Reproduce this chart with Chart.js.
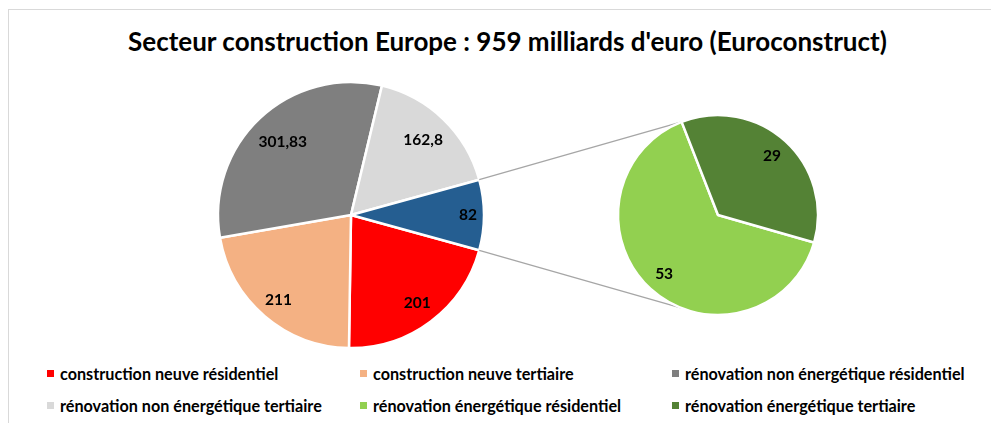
<!DOCTYPE html>
<html>
<head>
<meta charset="utf-8">
<script src="https://cdn.jsdelivr.net/npm/chart.js@4.4.1/dist/chart.umd.min.js"></script>
<style>
  html, body { margin:0; padding:0; background:#fff; }
  #wrap { position:relative; width:991px; height:423px; overflow:hidden; background:#fff; font-family: Lato, "Noto Sans", sans-serif; }
  #frame { position:absolute; left:8px; top:9px; width:1100px; height:600px; border:1px solid #d9d9d9; box-sizing:border-box; }
  #title { position:absolute; left:24px; top:26px; width:967px; text-align:center; font-weight:bold; font-size:26px; line-height:30px; color:#000; white-space:nowrap; }
  #c1 { position:absolute; left:211px; top:75px; }
  #c2 { position:absolute; left:460px; top:100px; }
  #legend { position:absolute; left:47px; top:362px; display:grid; grid-template-columns:313px 312px 310px; grid-auto-rows:32px; font-weight:bold; font-size:16.2px; color:#000; }
  .item { display:flex; align-items:center; white-space:nowrap; height:22px; }
  .sw { width:7px; height:7px; margin-right:6px; flex:none; }
</style>
</head>
<body>
<div id="wrap">
  <div id="frame"></div>
  <div id="title"></div>
  <canvas id="c1" width="280" height="280"></canvas>
  <canvas id="c2" width="370" height="230"></canvas>
  <div id="legend"></div>
</div>
<script>
// ---- data ----
const titleText = "Secteur construction Europe : 959 milliards d'euro (Euroconstruct)";
const mainLabels = ["construction neuve résidentiel", "construction neuve tertiaire", "rénovation non énergétique résidentiel", "rénovation non énergétique tertiaire"];
const mainValues = [201, 211, 301.83, 162.8];
const mainColors = ["#FF0000", "#F4B183", "#7F7F7F", "#D9D9D9"];
const secLabels = ["rénovation énergétique résidentiel", "rénovation énergétique tertiaire"];
const secValues = [53, 29];
const secColors = ["#92D050", "#548235"];
const otherColor = "#255E91";

// ---- derived ----
const otherValue = secValues.reduce((a, b) => a + b, 0);
const pieValues = mainValues.concat([otherValue]);
const pieColors = mainColors.concat([otherColor]);
const total = pieValues.reduce((a, b) => a + b, 0);
const mainRotation = 90 + (otherValue / total) * 180;  // "other" slice centred at 3 o'clock

document.getElementById('title').textContent = titleText;

const legendEl = document.getElementById('legend');
mainLabels.concat(secLabels).forEach((lab, i) => {
  const col = mainColors.concat(secColors)[i];
  const d = document.createElement('div');
  d.className = 'item';
  const s = document.createElement('span');
  s.className = 'sw'; s.style.background = col;
  const t = document.createElement('span');
  t.textContent = lab;
  d.appendChild(s); d.appendChild(t);
  legendEl.appendChild(d);
});

const fmt = v => String(v).replace('.', ',');

const labelPlugin = {
  id: 'sliceLabels',
  afterDatasetsDraw(chart, args, opts) {
    const ctx = chart.ctx;
    const meta = chart.getDatasetMeta(0);
    const vals = chart.data.datasets[0].data;
    ctx.save();
    ctx.font = 'bold 15.5px Lato, "Noto Sans", sans-serif';
    ctx.fillStyle = '#000';
    ctx.textAlign = 'center';
    ctx.textBaseline = 'middle';
    meta.data.forEach((arc, i) => {
      const mid = (arc.startAngle + arc.endAngle) / 2;
      const r = arc.outerRadius * opts.fractions[i];
      ctx.fillText(fmt(vals[i]), arc.x + Math.cos(mid) * r, arc.y + Math.sin(mid) * r);
    });
    ctx.restore();
  }
};

const c1 = document.getElementById('c1');
const c2 = document.getElementById('c2');

const chart1 = new Chart(c1, {
  type: 'pie',
  data: { labels: mainLabels.concat(['rénovation énergétique']), datasets: [{ data: pieValues, backgroundColor: pieColors, borderColor: '#fff', borderWidth: 2.5 }] },
  options: {
    responsive: false, animation: false, rotation: mainRotation, radius: 133,
    layout: { padding: 0 },
    events: [],
    plugins: { legend: { display: false }, tooltip: { enabled: false }, sliceLabels: { fractions: [0.83, 0.84, 0.75, 0.78, 0.88] } }
  },
  plugins: [labelPlugin]
});

const connectorPlugin = {
  id: 'connectors',
  beforeDatasetsDraw(chart) {
    const ctx = chart.ctx;
    const dx = c1.offsetLeft - c2.offsetLeft, dy = c1.offsetTop - c2.offsetTop;
    const m1 = chart1.getDatasetMeta(0);
    const blue = m1.data[m1.data.length - 1];
    const R = blue.outerRadius;
    const p1 = [blue.x + R * Math.cos(blue.startAngle) + dx, blue.y + R * Math.sin(blue.startAngle) + dy];
    const p2 = [blue.x + R * Math.cos(blue.endAngle) + dx, blue.y + R * Math.sin(blue.endAngle) + dy];
    const m2 = chart.getDatasetMeta(0);
    const a = m2.data[m2.data.length - 1];
    const r = a.outerRadius;
    const q1 = [a.x + r * Math.cos(a.startAngle), a.y + r * Math.sin(a.startAngle)];
    const q2 = [a.x + r * Math.cos(a.startAngle), a.y - r * Math.sin(a.startAngle)];
    ctx.save();
    ctx.strokeStyle = '#A6A6A6';
    ctx.lineWidth = 1.25;
    ctx.beginPath();
    ctx.moveTo(p1[0], p1[1]); ctx.lineTo(q1[0], q1[1]);
    ctx.moveTo(p2[0], p2[1]); ctx.lineTo(q2[0], q2[1]);
    ctx.stroke();
    ctx.restore();
  }
};

const chart2 = new Chart(c2, {
  type: 'pie',
  data: { labels: secLabels, datasets: [{ data: secValues, backgroundColor: secColors, borderColor: '#fff', borderWidth: 2.5 }] },
  options: {
    responsive: false, animation: false, rotation: 106, radius: 100,
    layout: { padding: { left: 146, right: 0, top: 0, bottom: 0 } },
    events: [],
    plugins: { legend: { display: false }, tooltip: { enabled: false }, sliceLabels: { fractions: [0.8, 0.8] } }
  },
  plugins: [labelPlugin, connectorPlugin]
});
</script>
</body>
</html>
